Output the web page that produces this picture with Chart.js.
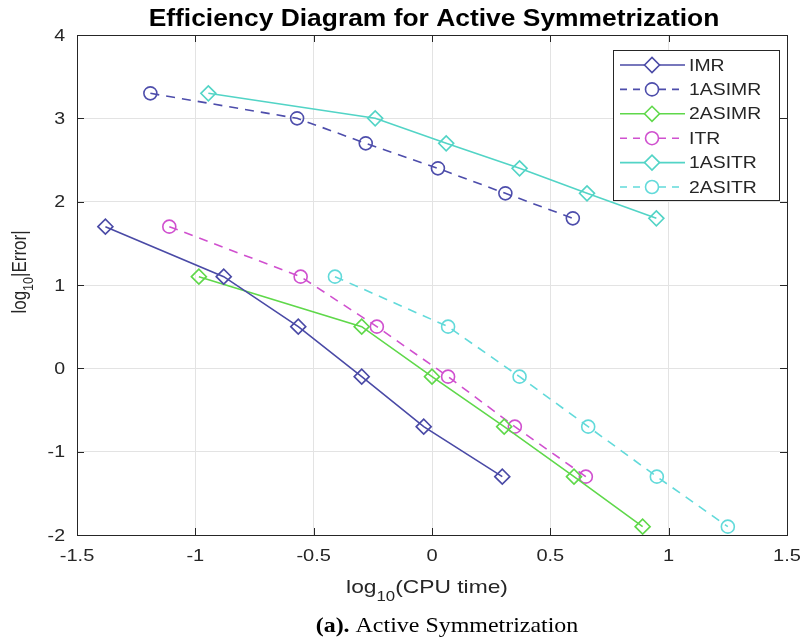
<!DOCTYPE html>
<html>
<head>
<meta charset="utf-8">
<script src="https://cdn.jsdelivr.net/npm/chart.js@4"></script>
<style>
  html, body { margin: 0; padding: 0; background: #fff; }
  #wrap { width: 809px; height: 644px; position: relative; }
</style>
</head>
<body>
<div id="wrap"><canvas id="effChart" width="809" height="644"></canvas></div>
<script>
// === DATA ===
const seriesNames = ['IMR', '1ASIMR', '2ASIMR', 'ITR', '1ASITR', '2ASITR'];
const imrX    = [-1.38, -0.88, -0.565, -0.297, -0.035, 0.297];
const imrY    = [1.7, 1.1, 0.5, -0.1, -0.7, -1.3];
const asimr1X = [-1.19, -0.57, -0.28, 0.025, 0.31, 0.595];
const asimr1Y = [3.3, 3.0, 2.7, 2.4, 2.1, 1.8];
const asimr2X = [-0.985, -0.297, 0.0, 0.305, 0.6, 0.89];
const asimr2Y = [1.1, 0.5, -0.1, -0.7, -1.3, -1.9];
const itrX    = [-1.11, -0.555, -0.233, 0.068, 0.35, 0.65];
const itrY    = [1.7, 1.1, 0.5, -0.1, -0.7, -1.3];
const asitr1X = [-0.945, -0.24, 0.06, 0.37, 0.655, 0.948];
const asitr1Y = [3.3, 3.0, 2.7, 2.4, 2.1, 1.8];
const asitr2X = [-0.41, 0.068, 0.37, 0.66, 0.95, 1.25];
const asitr2Y = [1.1, 0.5, -0.1, -0.7, -1.3, -1.9];

const xTicks = [-1.5, -1, -0.5, 0, 0.5, 1, 1.5];
const yTicks = [-2, -1, 0, 1, 2, 3, 4];

const COLORS = { imr: '#4a4aa6', asimr1: '#4d4dab', asimr2: '#5fd84a', itr: '#d050cf', asitr1: '#52d4c6', asitr2: '#62dada' };
const SANS = '"Liberation Sans", Arial, sans-serif';
const SERIF = '"Liberation Serif", "Times New Roman", serif';

const toPts = (xs, ys) => xs.map((x, i) => ({ x, y: ys[i] }));

const styles = [
  { color: COLORS.imr, dash: [], marker: 'rectRot', xs: imrX, ys: imrY },
  { color: COLORS.asimr1, dash: [9, 7], marker: 'circle', xs: asimr1X, ys: asimr1Y },
  { color: COLORS.asimr2, dash: [], marker: 'rectRot', xs: asimr2X, ys: asimr2Y },
  { color: COLORS.itr, dash: [9, 7], marker: 'circle', xs: itrX, ys: itrY },
  { color: COLORS.asitr1, dash: [], marker: 'rectRot', xs: asitr1X, ys: asitr1Y },
  { color: COLORS.asitr2, dash: [9, 7], marker: 'circle', xs: asitr2X, ys: asitr2Y }
];

const datasets = styles.map((s, i) => ({
  label: seriesNames[i],
  data: toPts(s.xs, s.ys),
  borderColor: s.color,
  backgroundColor: 'rgba(255,255,255,0)',
  borderWidth: 1.6,
  borderDash: s.dash,
  pointStyle: s.marker,
  pointRadius: s.marker === 'circle' ? 6.5 : 7.5,
  pointBorderWidth: 1.6,
  pointBorderColor: s.color,
  pointBackgroundColor: 'rgba(255,255,255,0)',
  showLine: true,
  tension: 0,
  clip: false
}));

// text the source figure shows a bit wider than normal (the image was stretched sideways)
function wideText(ctx, parts, x, y, sx, align) {
  // parts: [{t, font, dy}]
  let total = 0;
  parts.forEach(p => { ctx.font = p.font; p.w = ctx.measureText(p.t).width; total += p.w; });
  let start = align === 'center' ? -total / 2 : align === 'right' ? -total : 0;
  ctx.save();
  ctx.translate(x, y);
  ctx.scale(sx, 1);
  ctx.textAlign = 'left';
  parts.forEach(p => { ctx.font = p.font; ctx.fillText(p.t, start, p.dy || 0); start += p.w; });
  ctx.restore();
}

// draws frame, tick labels, titles, caption and the boxed legend the way MATLAB does
const decorations = {
  id: 'decorations',
  afterDatasetsDraw(chart) {
    const { ctx, chartArea: a } = chart;
    const xs = chart.scales.x, ys = chart.scales.y;
    ctx.save();

    // box + inner ticks
    ctx.strokeStyle = '#262626';
    ctx.lineWidth = 1;
    ctx.setLineDash([]);
    ctx.strokeRect(a.left + 0.5, a.top + 0.5, a.right - a.left, a.bottom - a.top);
    ctx.beginPath();
    xTicks.forEach(v => {
      const px = Math.round(xs.getPixelForValue(v)) + 0.5;
      ctx.moveTo(px, a.bottom); ctx.lineTo(px, a.bottom - 7);
      ctx.moveTo(px, a.top); ctx.lineTo(px, a.top + 7);
    });
    yTicks.forEach(v => {
      const py = Math.round(ys.getPixelForValue(v)) + 0.5;
      ctx.moveTo(a.left, py); ctx.lineTo(a.left + 7, py);
      ctx.moveTo(a.right, py); ctx.lineTo(a.right - 7, py);
    });
    ctx.stroke();

    // tick labels
    ctx.fillStyle = '#262626';
    ctx.textBaseline = 'middle';
    const tickFont = '17px ' + SANS;
    xTicks.forEach(v => wideText(ctx, [{ t: String(v), font: tickFont }], xs.getPixelForValue(v), a.bottom + 21, 1.18, 'center'));
    yTicks.forEach(v => wideText(ctx, [{ t: String(v), font: tickFont }], a.left - 12, ys.getPixelForValue(v) + 1, 1.15, 'right'));

    // title
    ctx.fillStyle = '#000';
    ctx.textBaseline = 'alphabetic';
    wideText(ctx, [{ t: 'Efficiency Diagram for Active Symmetrization', font: 'bold 24px ' + SANS }], 434, 26, 1.1, 'center');

    // x title with subscript
    ctx.fillStyle = '#262626';
    const big = '19px ' + SANS;
    const small = '14px ' + SANS;
    wideText(ctx, [{ t: 'log', font: big }, { t: '10', font: small, dy: 8 }, { t: '(CPU time)', font: big }], 427, 593, 1.2, 'center');

    // y title rotated
    ctx.save();
    ctx.translate(26, 272);
    ctx.rotate(-Math.PI / 2);
    ctx.scale(1, 1.2);
    const ybig = '17px ' + SANS, ysmall = '12.5px ' + SANS;
    wideText(ctx, [{ t: 'log', font: ybig }, { t: '10', font: ysmall, dy: 6 }, { t: '|Error|', font: ybig }], 0, 0, 1, 'center');
    ctx.restore();

    // caption
    ctx.fillStyle = '#000';
    wideText(ctx, [{ t: '(a).', font: 'bold 21px ' + SERIF }, { t: ' Active Symmetrization', font: '21px ' + SERIF }], 447, 632, 1.14, 'center');

    // legend
    const L = { left: 613, top: 50, right: 779, bottom: 200 };
    ctx.fillStyle = '#fff';
    ctx.fillRect(L.left, L.top, L.right - L.left, L.bottom - L.top);
    ctx.strokeStyle = '#262626';
    ctx.lineWidth = 1;
    ctx.strokeRect(L.left + 0.5, L.top + 0.5, L.right - L.left, L.bottom - L.top);
    ctx.textBaseline = 'middle';
    styles.forEach((s, i) => {
      const yy = 65 + i * 24.4;
      ctx.strokeStyle = s.color;
      ctx.lineWidth = 1.6;
      ctx.setLineDash(s.dash.length ? [7, 6] : []);
      ctx.beginPath(); ctx.moveTo(620, yy); ctx.lineTo(685, yy); ctx.stroke();
      ctx.setLineDash([]);
      ctx.fillStyle = '#fff';
      Chart.helpers.drawPoint(ctx, { pointStyle: s.marker, radius: s.marker === 'circle' ? 6.5 : 7.5, borderWidth: 1.6, rotation: 0 }, 652, yy);
      ctx.fillStyle = '#262626';
      wideText(ctx, [{ t: seriesNames[i], font: '17px ' + SANS }], 689, yy + 1, 1.14, 'left');
    });
    ctx.restore();
  }
};

const ctx = document.getElementById('effChart').getContext('2d');
new Chart(ctx, {
  type: 'scatter',
  data: { datasets },
  options: {
    responsive: false, animation: false, devicePixelRatio: 1,
    layout: { padding: { left: 0, right: 22, top: 35, bottom: 0 } },
    plugins: { legend: { display: false }, tooltip: { enabled: false } },
    scales: {
      x: {
        min: -1.5, max: 1.5,
        afterBuildTicks: s => { s.ticks = xTicks.map(v => ({ value: v })); },
        afterFit: s => { s.height = 644 - 535 - 35 + 35 - 35 + 35; s.paddingLeft = 0; s.paddingRight = 0; },
        grid: { color: '#e3e3e3', drawTicks: false },
        border: { display: false },
        ticks: { display: false }
      },
      y: {
        min: -2, max: 4,
        afterBuildTicks: s => { s.ticks = yTicks.map(v => ({ value: v })); },
        afterFit: s => { s.width = 77; s.paddingTop = 0; s.paddingBottom = 0; },
        grid: { color: '#e3e3e3', drawTicks: false },
        border: { display: false },
        ticks: { display: false }
      }
    }
  },
  plugins: [decorations]
});
</script>
</body>
</html>
